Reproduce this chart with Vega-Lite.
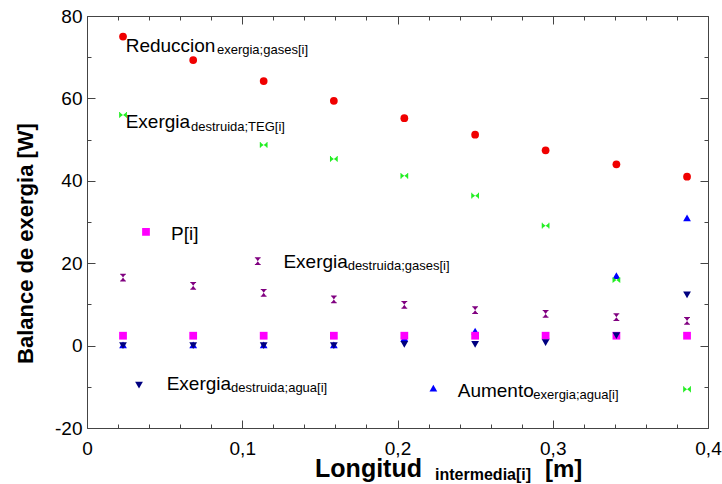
{
  "$schema": "https://vega.github.io/schema/vega-lite/v6.json",
  "width": 621,
  "height": 412,
  "autosize": {"type": "none"},
  "padding": {"left": 87, "top": 16, "right": 14, "bottom": 56},
  "background": "white",
  "config": {
    "font": "Liberation Sans",
    "view": {"stroke": "#444", "strokeWidth": 1}
  },
  "datasets": {
    "pts": [
      {"x": 0.0232, "y": 75.0, "s": "red"},
      {"x": 0.0684, "y": 69.3, "s": "red"},
      {"x": 0.1138, "y": 64.2, "s": "red"},
      {"x": 0.159, "y": 59.4, "s": "red"},
      {"x": 0.2044, "y": 55.2, "s": "red"},
      {"x": 0.25, "y": 51.2, "s": "red"},
      {"x": 0.2954, "y": 47.4, "s": "red"},
      {"x": 0.341, "y": 44.0, "s": "red"},
      {"x": 0.3865, "y": 41.0, "s": "red"},
      {"x": 0.0232, "y": 56.0, "s": "green"},
      {"x": 0.1138, "y": 48.7, "s": "green"},
      {"x": 0.159, "y": 45.3, "s": "green"},
      {"x": 0.2044, "y": 41.2, "s": "green"},
      {"x": 0.25, "y": 36.4, "s": "green"},
      {"x": 0.2954, "y": 29.1, "s": "green"},
      {"x": 0.341, "y": 15.9, "s": "green"},
      {"x": 0.3865, "y": -10.6, "s": "green"},
      {"x": 0.0232, "y": 16.5, "s": "purple"},
      {"x": 0.0684, "y": 14.5, "s": "purple"},
      {"x": 0.1138, "y": 12.8, "s": "purple"},
      {"x": 0.159, "y": 11.2, "s": "purple"},
      {"x": 0.2044, "y": 9.9, "s": "purple"},
      {"x": 0.25, "y": 8.6, "s": "purple"},
      {"x": 0.2954, "y": 7.7, "s": "purple"},
      {"x": 0.341, "y": 6.9, "s": "purple"},
      {"x": 0.3865, "y": 6.0, "s": "purple"},
      {"x": 0.110, "y": 20.5, "s": "purple"},
      {"x": 0.0232, "y": 2.4, "s": "magenta"},
      {"x": 0.0684, "y": 2.4, "s": "magenta"},
      {"x": 0.1138, "y": 2.4, "s": "magenta"},
      {"x": 0.159, "y": 2.4, "s": "magenta"},
      {"x": 0.2044, "y": 2.4, "s": "magenta"},
      {"x": 0.25, "y": 2.4, "s": "magenta"},
      {"x": 0.2954, "y": 2.4, "s": "magenta"},
      {"x": 0.341, "y": 2.4, "s": "magenta"},
      {"x": 0.3865, "y": 2.4, "s": "magenta"},
      {"x": 0.038, "y": 27.6, "s": "magenta"},
      {"x": 0.0232, "y": 0.0, "s": "navy"},
      {"x": 0.0684, "y": 0.0, "s": "navy"},
      {"x": 0.1138, "y": 0.0, "s": "navy"},
      {"x": 0.159, "y": 0.0, "s": "navy"},
      {"x": 0.2044, "y": 0.3, "s": "navy"},
      {"x": 0.25, "y": 0.3, "s": "navy"},
      {"x": 0.2954, "y": 0.7, "s": "navy"},
      {"x": 0.341, "y": 2.4, "s": "navy"},
      {"x": 0.3865, "y": 12.3, "s": "navy"},
      {"x": 0.0335, "y": -9.6, "s": "navy"},
      {"x": 0.0232, "y": 0.2, "s": "blue"},
      {"x": 0.0684, "y": 0.2, "s": "blue"},
      {"x": 0.1138, "y": 0.2, "s": "blue"},
      {"x": 0.159, "y": 0.2, "s": "blue"},
      {"x": 0.2044, "y": 1.8, "s": "blue"},
      {"x": 0.25, "y": 3.5, "s": "blue"},
      {"x": 0.2954, "y": 2.4, "s": "blue"},
      {"x": 0.341, "y": 17.0, "s": "blue"},
      {"x": 0.3865, "y": 31.0, "s": "blue"},
      {"x": 0.2231, "y": -10.3, "s": "blue"}
    ],
    "labels": [
      {"x": 0.0249, "y": 71.3, "t": "Reduccion", "k": "main"},
      {"x": 0.0837, "y": 70.8, "t": "exergia;gases[i]", "k": "sub"},
      {"x": 0.0249, "y": 52.7, "t": "Exergia", "k": "main"},
      {"x": 0.067, "y": 52.2, "t": "destruida;TEG[i]", "k": "sub"},
      {"x": 0.0541, "y": 25.6, "t": "P[i]", "k": "main"},
      {"x": 0.1265, "y": 18.8, "t": "Exergia", "k": "main"},
      {"x": 0.1679, "y": 18.3, "t": "destruida;gases[i]", "k": "sub"},
      {"x": 0.0513, "y": -10.8, "t": "Exergia", "k": "main"},
      {"x": 0.0928, "y": -11.3, "t": "destruida;agua[i]", "k": "sub"},
      {"x": 0.2388, "y": -12.4, "t": "Aumento", "k": "main"},
      {"x": 0.2875, "y": -12.9, "t": "exergia;agua[i]", "k": "sub"},
      {"x": 0.1469, "y": -31.8, "t": "Longitud", "k": "title"},
      {"x": 0.2242, "y": -32.6, "t": "intermedia[i]", "k": "titlesub"},
      {"x": 0.295, "y": -31.8, "t": "[m]", "k": "titleunit"}
    ]
  },
  "resolve": {"axis": {"x": "independent", "y": "independent"}},
  "layer": [
    {
      "data": {"name": "pts"},
      "mark": {"type": "point", "filled": true, "opacity": 1, "strokeWidth": 0},
      "encoding": {
        "x": {"field": "x", "type": "quantitative",
          "scale": {"domain": [0, 0.4], "nice": false, "zero": false},
          "axis": {"orient": "bottom", "title": null, "gridOpacity": 0, "domainOpacity": 0, "tickSize": -8, "tickColor": "#444",
            "values": [0, 0.1, 0.2, 0.3, 0.4],
            "labelPadding": 19, "labelFontSize": 19, "labelColor": "black", "labelFlush": false, "labelOverlap": false,
            "labelExpr": "datum.value==0 ? '0' : replace(format(datum.value,'.1f'),'.',',')"}},
        "y": {"field": "y", "type": "quantitative",
          "scale": {"domain": [-20, 80], "nice": false, "zero": false},
          "axis": {"orient": "left", "gridOpacity": 0, "domainOpacity": 0, "tickSize": -8, "tickColor": "#444",
            "values": [-20, 0, 20, 40, 60, 80],
            "labelPadding": 13, "labelFontSize": 19, "labelColor": "black", "labelFlush": false, "labelOverlap": false,
            "labelExpr": "'' + datum.value",
            "title": "Balance de exergia [W]", "titleFontSize": 22, "titleFontWeight": "bold", "titleColor": "black",
            "titleAngle": -90, "titleAlign": "center", "titleBaseline": "alphabetic", "titleX": -54.5, "titleY": 227}},
        "color": {"field": "s", "type": "nominal", "legend": null,
          "scale": {"domain": ["red", "green", "purple", "magenta", "navy", "blue"],
            "range": ["#f00000", "#22ee22", "#800080", "#ff00ff", "#000080", "#0000ff"]}},
        "shape": {"field": "s", "type": "nominal", "legend": null,
          "scale": {"domain": ["red", "green", "purple", "magenta", "navy", "blue"],
            "range": ["circle", "M-1,-0.75L0,0L-1,0.75Z M1,-0.75L0,0L1,0.75Z M-1,-0.75L-0.75,-0.75L-0.75,0.75L-1,0.75Z M1,-0.75L0.75,-0.75L0.75,0.75L1,0.75Z", "M-0.75,-1L0.75,-1L0,0Z M-0.75,1L0.75,1L0,0Z M-0.75,-1L0.75,-1L0.75,-0.75L-0.75,-0.75Z M-0.75,1L0.75,1L0.75,0.75L-0.75,0.75Z", "square", "triangle-down", "triangle-up"]}},
        "size": {"value": 60},
        "order": {"field": "s"}
      }
    },
    {
      "data": {"name": "pts"},
      "mark": {"type": "point", "opacity": 0},
      "encoding": {
        "x": {"field": "x", "type": "quantitative",
          "scale": {"domain": [0, 0.4], "nice": false, "zero": false},
          "axis": {"orient": "bottom", "title": null, "labels": false, "gridOpacity": 0, "domainOpacity": 0, "offset": -4, "tickSize": 4, "tickColor": "#444",
            "values": [0.02, 0.04, 0.06, 0.08, 0.12, 0.14, 0.16, 0.18, 0.22, 0.24, 0.26, 0.28, 0.32, 0.34, 0.36, 0.38]}},
        "y": {"field": "y", "type": "quantitative",
          "scale": {"domain": [-20, 80], "nice": false, "zero": false},
          "axis": {"orient": "left", "title": null, "labels": false, "gridOpacity": 0, "domainOpacity": 0, "offset": -4, "tickSize": 4, "tickColor": "#444",
            "values": [-10, 10, 30, 50, 70]}}
      }
    },
    {
      "data": {"name": "pts"},
      "mark": {"type": "point", "opacity": 0},
      "encoding": {
        "x": {"field": "x", "type": "quantitative",
          "scale": {"domain": [0, 0.4], "nice": false, "zero": false},
          "axis": {"orient": "top", "title": null, "labels": false, "gridOpacity": 0, "domainOpacity": 0, "offset": -8, "tickSize": 8, "tickColor": "#444",
            "values": [0, 0.1, 0.2, 0.3, 0.4]}},
        "y": {"field": "y", "type": "quantitative",
          "scale": {"domain": [-20, 80], "nice": false, "zero": false},
          "axis": {"orient": "right", "title": null, "labels": false, "gridOpacity": 0, "domainOpacity": 0, "offset": -8, "tickSize": 8, "tickColor": "#444",
            "values": [-20, 0, 20, 40, 60, 80]}}
      }
    },
    {
      "data": {"name": "pts"},
      "mark": {"type": "point", "opacity": 0},
      "encoding": {
        "x": {"field": "x", "type": "quantitative",
          "scale": {"domain": [0, 0.4], "nice": false, "zero": false},
          "axis": {"orient": "top", "title": null, "labels": false, "gridOpacity": 0, "domainOpacity": 0, "offset": -4, "tickSize": 4, "tickColor": "#444",
            "values": [0.02, 0.04, 0.06, 0.08, 0.12, 0.14, 0.16, 0.18, 0.22, 0.24, 0.26, 0.28, 0.32, 0.34, 0.36, 0.38]}},
        "y": {"field": "y", "type": "quantitative",
          "scale": {"domain": [-20, 80], "nice": false, "zero": false},
          "axis": {"orient": "right", "title": null, "labels": false, "gridOpacity": 0, "domainOpacity": 0, "offset": -4, "tickSize": 4, "tickColor": "#444",
            "values": [-10, 10, 30, 50, 70]}}
      }
    },
    {
      "data": {"name": "labels"},
      "transform": [{"filter": "datum.k == 'main'"}],
      "mark": {"type": "text", "align": "left", "baseline": "alphabetic", "fontSize": 19, "color": "black"},
      "encoding": {
        "x": {"field": "x", "type": "quantitative", "scale": {"domain": [0, 0.4], "nice": false, "zero": false}, "axis": null},
        "y": {"field": "y", "type": "quantitative", "scale": {"domain": [-20, 80], "nice": false, "zero": false}, "axis": null},
        "text": {"field": "t"}
      }
    },
    {
      "data": {"name": "labels"},
      "transform": [{"filter": "datum.k == 'sub'"}],
      "mark": {"type": "text", "align": "left", "baseline": "alphabetic", "fontSize": 13, "color": "black"},
      "encoding": {
        "x": {"field": "x", "type": "quantitative", "scale": {"domain": [0, 0.4], "nice": false, "zero": false}, "axis": null},
        "y": {"field": "y", "type": "quantitative", "scale": {"domain": [-20, 80], "nice": false, "zero": false}, "axis": null},
        "text": {"field": "t"}
      }
    },
    {
      "data": {"name": "labels"},
      "transform": [{"filter": "datum.k == 'title'"}],
      "mark": {"type": "text", "align": "left", "baseline": "alphabetic", "fontSize": 25, "fontWeight": "bold", "color": "black"},
      "encoding": {
        "x": {"field": "x", "type": "quantitative", "scale": {"domain": [0, 0.4], "nice": false, "zero": false}, "axis": null},
        "y": {"field": "y", "type": "quantitative", "scale": {"domain": [-20, 80], "nice": false, "zero": false}, "axis": null},
        "text": {"field": "t"}
      }
    },
    {
      "data": {"name": "labels"},
      "transform": [{"filter": "datum.k == 'titlesub'"}],
      "mark": {"type": "text", "align": "left", "baseline": "alphabetic", "fontSize": 16, "fontWeight": "bold", "color": "black"},
      "encoding": {
        "x": {"field": "x", "type": "quantitative", "scale": {"domain": [0, 0.4], "nice": false, "zero": false}, "axis": null},
        "y": {"field": "y", "type": "quantitative", "scale": {"domain": [-20, 80], "nice": false, "zero": false}, "axis": null},
        "text": {"field": "t"}
      }
    },
    {
      "data": {"name": "labels"},
      "transform": [{"filter": "datum.k == 'titleunit'"}],
      "mark": {"type": "text", "align": "left", "baseline": "alphabetic", "fontSize": 24, "fontWeight": "bold", "color": "black"},
      "encoding": {
        "x": {"field": "x", "type": "quantitative", "scale": {"domain": [0, 0.4], "nice": false, "zero": false}, "axis": null},
        "y": {"field": "y", "type": "quantitative", "scale": {"domain": [-20, 80], "nice": false, "zero": false}, "axis": null},
        "text": {"field": "t"}
      }
    }
  ]
}
